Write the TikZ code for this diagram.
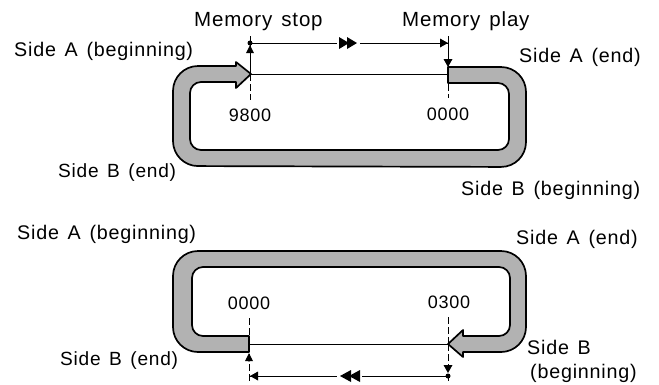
\documentclass[tikz,border=0pt]{standalone}
\usepackage{fontspec}
\setmainfont[LetterSpace=4,WordSpace=1.4]{Liberation Sans}
\usetikzlibrary{arrows.meta}
\definecolor{bandgray}{gray}{0.70}
\tikzset{
  x=1pt,y=-1pt,
  band/.style={draw=black,line width=1.7pt,fill=bandgray,line join=round},
  lbl/.style={inner sep=0pt,anchor=base west,font=\fontsize{19.7}{22}\selectfont},
  lblb/.style={lbl,font=\fontsize{19.1}{22}\selectfont},
  lblm/.style={lbl,font=\fontsize{20.5}{22}\selectfont},
  num/.style={inner sep=0pt,font=\fontsize{18}{22}\selectfont},
  thin line/.style={draw=black,line width=0.9pt},
  guide/.style={draw=black,line width=0.9pt,dash pattern=on 7pt off 3pt},
  dim/.style={draw=black,line width=0.9pt},
  tipdot/.style={fill=black,draw=none,circle,inner sep=0pt,minimum size=5pt}
}
\begin{document}
\begin{tikzpicture}
\useasboundingbox (0,0) rectangle (659,384);
% top band
\path[band] (236,66)
  [rounded corners=25pt] -- (173,66) -- (173,166) -- (526,167) -- (526,67)
  [rounded corners=0pt] -- (448,67) -- (448,83)
  [rounded corners=11pt] -- (509,83) -- (509,150) -- (190,150) -- (190,82)
  [rounded corners=0pt] -- (236,82) -- (236,88) -- (251,74) -- (236,62) -- cycle;
% bottom band
\path[band] (249,336)
  [rounded corners=11pt] -- (192,336) -- (192,267) -- (510,267) -- (510,336)
  [rounded corners=0pt] -- (463,336) -- (463,330) -- (448,344) -- (463,357) -- (463,352)
  [rounded corners=25pt] -- (526,352) -- (526,251) -- (173,251) -- (173,352)
  [rounded corners=0pt] -- (249,352) -- cycle;

% named points
\coordinate (t1) at (250,74); \coordinate (t2) at (448,74);
\coordinate (tt1) at (250,36); \coordinate (tt2) at (448,36);
\coordinate (tb1) at (250,100); \coordinate (tb2) at (448,98);
\coordinate (d1) at (250,43); \coordinate (d2) at (448,43);
\coordinate (dm1) at (337,43); \coordinate (dm2) at (360,43);
\coordinate (b1) at (249,344); \coordinate (b2) at (448,344);
\coordinate (bt1) at (249,318); \coordinate (bt2) at (448,317);
\coordinate (bb1) at (249,384); \coordinate (bb2) at (448,384);
\coordinate (e1) at (249,376); \coordinate (e2) at (448,376);
\coordinate (em1) at (337,376); \coordinate (em2) at (362,376);

% top lines
\draw[thin line] (t1) -- (t2);
\draw[guide] (t1) -- (tb1);
\draw[guide] (t2) -- (tb2);
\draw[thin line] (tt1) -- (t1);
\draw[thin line] (tt2) -- (t2);
\draw[dim] (d1) -- (dm1);
\draw[dim] (dm2) -- (d2);
\fill (246,53) -- (254,53) -- (250,45) -- cycle;
\node[tipdot] at (d1) {};
\fill (440,38.5) -- (448,43) -- (440,47.5) -- cycle;
\fill (443.5,59) -- (452.5,59) -- (448,67) -- cycle;
% double head top
\fill (339,37) -- (349,43) -- (339,49) -- cycle;
\fill (347,37) -- (357,43) -- (347,49) -- cycle;

% bottom lines
\draw[thin line] (b1) -- (b2);
\draw[guide] (bt1) -- (b1);
\draw[guide] (bt2) -- (b2);
\draw[guide] (b1) -- (bb1);
\draw[guide] (b2) -- (bb2);
\draw[dim] (e1) -- (em1);
\draw[dim] (em2) -- (e2);
\fill (245,361) -- (253,361) -- (249,353) -- cycle;
\node[tipdot] at (249,359) {};
\fill (258,371.5) -- (250,376) -- (258,380.5) -- cycle;
\fill (443.5,365) -- (452.5,365) -- (448,373) -- cycle;
\node[tipdot] at (e2) {};
\fill (351,370) -- (340,376) -- (351,382) -- cycle;
\fill (360,370) -- (349,376) -- (360,382) -- cycle;

% labels
\node[lblm] (memstop) at (194,26) {Memory stop};
\node[lblm] (memplay) at (402,26) {Memory play};
\node[lbl] (ta1) at (14,56) {Side A (beginning)};
\node[lbl] (ta2) at (519,62) {Side A (end)};
\node[lblb] (tb3) at (58,177) {Side B (end)};
\node[lbl] (tb4) at (461,195) {Side B (beginning)};
\node[num] (n1) at (250,115.5) {9800};
\node[num] (n2) at (448,114.5) {0000};
\node[lbl] (ba1) at (17,239) {Side A (beginning)};
\node[lbl] (ba2) at (516,244) {Side A (end)};
\node[lblb] (bb3) at (60,365) {Side B (end)};
\node[lbl] (bb4) at (527,354) {Side B};
\node[lbl] (bb5) at (530,378) {(beginning)};
\node[num] (n3) at (249,303) {0000};
\node[num] (n4) at (449,302.5) {0300};
\end{tikzpicture}
\end{document}
